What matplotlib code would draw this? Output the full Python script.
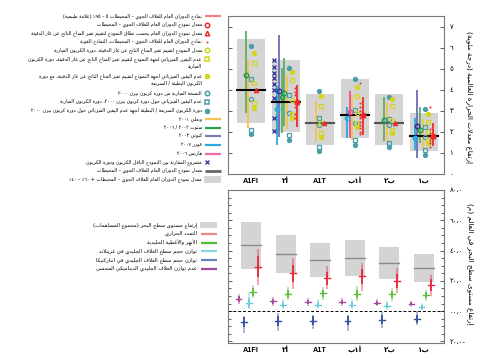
import numpy as np
import matplotlib
matplotlib.use("Agg")
import matplotlib.pyplot as plt
from matplotlib.patches import Rectangle
from matplotlib.ticker import MultipleLocator

plt.rcParams['font.family'] = ['DejaVu Sans']

# ---------------- data ----------------
scenarios = ["A1FI", "A2", "A1T", "A1B", "B2", "B1"]
scenario_labels = ["A1FI", "أ٢", "A1T", "أ١ب", "ب٢", "ب١"]

# top panel: warming (deg C)
aogcm_mean = [4.0, 3.4, 2.4, 2.8, 2.4, 1.8]
aogcm_box_lo = [2.4, 2.0, 1.4, 1.7, 1.4, 1.1]
aogcm_box_hi = [6.4, 5.4, 3.8, 4.5, 3.8, 2.9]

magicc_mean = [4.3, 3.5, 2.4, 2.9, 2.55, 2.0]
magicc_pu_lo = [3.35, 2.85, 1.95, 2.4, 2.1, 1.6]
magicc_pu_hi = [5.25, 4.45, 3.22, 3.7, 3.24, 2.48]
magicc_cc_lo = [3.15, 2.67, 1.75, 2.24, 1.96, 1.45]
magicc_cc_hi = [5.72, 4.83, 3.7, 4.14, 3.56, 2.87]

bern_mean = [3.57, 2.9, 2.32, 2.43, 2.32, 1.75]
bern_pu_lo = [2.08, 1.83, 1.29, 1.6, 1.45, 1.14]
bern_pu_hi = [4.53, 3.73, 2.64, 3.06, 2.59, 2.22]
bern_cc_lo = [1.9, 1.61, 1.1, 1.37, 1.26, 0.9]
bern_cc_hi = [6.07, 5.04, 3.95, 4.5, 3.67, 3.1]

# observational constraints (low, high[, median])
wigley = {"A1FI": (2.2, 5.4), "A2": (2.15, 4.7), "A1T": (1.5, 3.45),
          "A1B": (1.6, 3.75), "B2": (1.5, 3.4), "B1": (1.2, 2.6)}
stott = {"A1FI": [(2.9, 6.8, 4.7)], "A2": [(1.95, 5.05, 3.65), (2.3, 5.5, 3.85)],
         "B2": [(1.55, 3.65, 2.55)], "B1": [(1.45, 3.2, 2.1)]}
knutti = {"A2": (1.75, 6.6, 3.93), "B1": (0.75, 4.0, 2.27)}
furrer = {"A2": (1.4, 4.2, 3.07), "A1B": (1.7, 3.2, 2.64), "B1": (1.13, 2.64, 1.73)}
harris = {"A1B": (1.7, 3.95, 2.92)}
c4mip_a2 = [5.39, 5.07, 4.8, 4.54, 4.28, 4.01, 3.59, 2.67, 2.04]
aogcm_range = {"A2": (2.3, 4.2), "A1B": (1.9, 3.6), "B1": (1.4, 2.35)}
aogcm_models = {"A2": [4.06, 3.9, 3.74, 3.43, 3.19, 2.87, 2.64],
                "A1B": [4.33, 3.35, 3.19, 3.0, 2.79, 2.64, 2.48, 2.32, 2.16, 2.0, 1.89],
                "B1": [3.17, 2.15, 1.95, 1.75, 1.6, 1.45, 1.3]}

# bottom panel: sea level rise (m)
sl_lo = [0.28, 0.25, 0.223, 0.234, 0.212, 0.19]
sl_hi = [0.588, 0.5, 0.448, 0.47, 0.426, 0.376]
sl_mid = [0.435, 0.376, 0.336, 0.354, 0.32, 0.284]
thermal_lo = [0.175, 0.146, 0.146, 0.131, 0.118, 0.10]
thermal_hi = [0.413, 0.35, 0.30, 0.315, 0.282, 0.24]
thermal_mid = [0.295, 0.249, 0.216, 0.23, 0.2, 0.172]
glacier_lo = [0.085, 0.076, 0.074, 0.07, 0.07, 0.07]
glacier_hi = [0.175, 0.161, 0.157, 0.168, 0.153, 0.14]
glacier_mid = [0.125, 0.113, 0.118, 0.113, 0.113, 0.107]
greenland_lo = [0.015, 0.015, 0.015, 0.015, 0.011, 0.011]
greenland_hi = [0.125, 0.081, 0.081, 0.081, 0.07, 0.054]
greenland_mid = [0.054, 0.043, 0.043, 0.043, 0.037, 0.026]
antarctic_lo = [-0.142, -0.131, -0.12, -0.131, -0.11, -0.094]
antarctic_hi = [-0.029, -0.013, -0.022, -0.022, -0.007, 0.0]
antarctic_mid = [-0.072, -0.062, -0.062, -0.062, -0.055, -0.05]
discharge_lo = [0.048, 0.037, 0.037, 0.037, 0.037, 0.03]
discharge_hi = [0.113, 0.096, 0.087, 0.085, 0.081, 0.066]
discharge_mid = [0.081, 0.066, 0.059, 0.059, 0.055, 0.048]

top_ticks = [0, 1, 2, 3, 4, 5, 6, 7]
top_tick_labels = ["٠", "١", "٢", "٣", "٤", "٥", "٦", "٧"]
bot_ticks = [-0.2, 0.0, 0.2, 0.4, 0.6, 0.8]
bot_tick_labels = ["-٠،٢٠", "٠،٠٠", "٠،٢٠", "٠،٤٠", "٠،٦٠", "٠،٨٠"]

top_ylabel = "إرتفاع معدلات الحرارة العالمية (درجة مئوية)"
bot_ylabel = "إرتفاع مستوى سطح البحر في العالم (م)"

top_legend_labels = [
    "نماذج الدوران العام للغلاف الجوي – المحيطات ٥ – ٩٥٪ (علامة طبيعية)",
    "معدل نموذج الدوران العام للغلاف الجوي – المحيطات",
    "معدل نموذج الدوران العام بحسب نطاق النموذج لتقييم تغير المناخ الناتج عن غاز الدفيئة",
    "نماذج الدوران العام للغلاف الجوي – المحيطات، النماذج القوية",
    "معدل النموذج لتقييم تغير المناخ الناتج عن غاز الدفيئة، دورة الكربون العيارية",
    "عدم اليقين الفيزيائي لجهة النموذج لتقييم تغير المناخ الناتج عن غاز الدفيئة، دورة الكربون\nالعيارية",
    "عدم اليقين الفيزيائي لجهة النموذج لتقييم تغير المناخ الناتج عن غاز الدفيئة، مع دورة\nالكربون البطيئة / السريعة",
    "النسخة العيارية من دورة كربون بيرن ٢٠٠٠",
    "عدم اليقين الفيزيائي حول دورة كربون بيرن ٢٠٠٠، دورة الكربون العيارية",
    "دورة الكربون السريعة / البطيئة لجهة عدم اليقين الفيزيائي حول دورة كربون بيرن ٢٠٠٠",
    "ويغلي ٢٠٠١",
    "ستوت ٢٠٠٢ / ٢٠٠٦",
    "كنوتي ٢٠٠٣",
    "فورر ٢٠٠٧",
    "هاريس ٢٠٠٦",
    "مشروع المقارنة بين النموذج الناقل الكربون ودورة الكربون",
    "معدل نموذج الدوران العام للغلاف الجوي – المحيطات",
    "معدل نموذج الدوران العام للغلاف الجوي – المحيطات + ٦٠٪ – ٤٠٪",
]
bot_legend_labels = [
    "إرتفاع مستوى سطح البحر (مجموع المساهمات)",
    "التمدد الحراري",
    "الأنهر والأغطية الجليدية",
    "توازن حجم سطح الغلاف الجليدي في غرينلاند",
    "توازن حجم سطح الغلاف الجليدي في انتاركتيكا",
    "عدم توازن الغلاف الجليدي الديناميكي المحسن",
]

# ---------------- arabic shaping (no reshaper lib available) ----------------
AR_LETTERS = "ءآأؤإئابةتثجحخدذرزسشصضطظعغفقكلمنهوىي"
AR_NFORMS = [1, 2, 2, 2, 2, 4, 2, 4, 2, 4, 4, 4, 4, 4, 2, 2, 2, 2,
             4, 4, 4, 4, 4, 4, 4, 4, 4, 4, 4, 4, 4, 4, 4, 2, 2, 4]
AR_BASE = {}
_code = 0xFE80
for _ch, _n in zip(AR_LETTERS, AR_NFORMS):
    AR_BASE[_ch] = (_code, _n)
    _code += _n
LAM_ALEF = {"آ": 0xFEF5, "أ": 0xFEF7, "إ": 0xFEF9, "ا": 0xFEFB}
MIRROR = {"(": ")", ")": "(", "[": "]", "]": "["}


def shape(s):
    out = []
    i = 0
    while i < len(s):
        c = s[i]
        if c not in AR_BASE:
            out.append(c)
            i += 1
            continue
        prev = s[i - 1] if i > 0 else ""
        prev_j = prev in AR_BASE and AR_BASE[prev][1] == 4
        if c == "ل" and i + 1 < len(s) and s[i + 1] in LAM_ALEF:
            out.append(chr(LAM_ALEF[s[i + 1]] + (1 if prev_j else 0)))
            i += 2
            continue
        nxt = s[i + 1] if i + 1 < len(s) else ""
        next_j = nxt in AR_BASE and AR_BASE[nxt][1] > 1
        base, n = AR_BASE[c]
        if n == 4 and prev_j and next_j:
            f = 3
        elif prev_j and n >= 2:
            f = 1
        elif n == 4 and next_j:
            f = 2
        else:
            f = 0
        out.append(chr(base + f))
        i += 1
    return "".join(out)


def ar(text):
    lines = []
    for s in text.split("\n"):
        s = shape(s)
        tokens, buf = [], ""
        for c in s:
            if c.isdigit() or ("A" <= c <= "Z") or ("a" <= c <= "z"):
                buf += c
            else:
                if buf:
                    tokens.append(buf)
                    buf = ""
                tokens.append(MIRROR.get(c, c))
        if buf:
            tokens.append(buf)
        lines.append("".join(reversed(tokens)))
    return "\n".join(lines)


# ---------------- figure ----------------
W, H = 484, 358
fig = plt.figure(figsize=(W / 100, H / 100), dpi=100)
ax = fig.add_axes([228 / W, 1 - 174 / H, 216 / W, 158 / H])
bx = fig.add_axes([228 / W, 1 - 343 / H, 216 / W, 153 / H])
lg = fig.add_axes([0, 0, 1, 1], zorder=-1)
lg.set_xlim(0, W)
lg.set_ylim(H, 0)
lg.axis('off')

box_grey = '#d4d4d4'
red = '#ee2a2a'
yel = '#d2d61c'
teal = '#4a9ea8'
col_wig = '#f6c24f'
col_stott = '#5fae5f'
col_stott_m = '#1f9a4a'
col_knutti = '#6c6cb8'
col_knutti_m = '#2d2d90'
col_furrer = '#29a8e0'
col_harris = '#ec4c9e'
col_c4 = '#2d3192'

step = 0.075
for i, s in enumerate(scenarios):
    ax.add_patch(Rectangle((i - 0.405, aogcm_box_lo[i]), 0.81,
                           aogcm_box_hi[i] - aogcm_box_lo[i], fc=box_grey, ec='none', zorder=1))
    cols = []
    if s == "A2":
        cols.append(("c4mip", c4mip_a2))
    if s in furrer:
        cols.append(("line", (furrer[s], col_furrer, col_furrer)))
    if s in knutti:
        cols.append(("line", (knutti[s], col_knutti, col_knutti_m)))
    for r in stott.get(s, []):
        cols.append(("line", (r, col_stott, col_stott_m)))
    if s in harris:
        cols.append(("line", (harris[s], col_harris, col_harris)))
    if s in wigley:
        cols.append(("line", (wigley[s], col_wig, col_wig)))
    cols.append(("bern", None))
    cols.append(("magicc", None))
    if s in aogcm_models:
        cols.append(("models", aogcm_models[s]))
    cols.append(("aogcm", aogcm_range.get(s)))
    n = len(cols)

    mcol = 'black' if s in ("A1FI", "A2", "A1B", "B1") else '#555555'
    ax.plot([i - 0.405, i + 0.405], [aogcm_mean[i]] * 2, color=mcol, lw=1.5, zorder=3.5)

    for k, (kind, val) in enumerate(cols):
        xk = i + (k - (n - 1) / 2) * step
        if kind == "c4mip":
            ax.plot([xk] * len(val), val, ls='none', marker='x', ms=2.6, mew=0.9,
                    color=col_c4, zorder=4)
        elif kind == "line":
            rng, lc, mc = val
            ax.plot([xk, xk], rng[:2], color=lc, lw=1.3, zorder=3, solid_capstyle='butt')
            if len(rng) > 2:
                ax.plot(xk, rng[2], marker='o', mfc='none', mec=mc, ms=3.2, mew=1.0, zorder=4)
        elif kind in ("bern", "magicc"):
            if kind == "bern":
                c, m, plo, phi, clo, chi = teal, bern_mean, bern_pu_lo, bern_pu_hi, bern_cc_lo, bern_cc_hi
            else:
                c, m, plo, phi, clo, chi = yel, magicc_mean, magicc_pu_lo, magicc_pu_hi, magicc_cc_lo, magicc_cc_hi
            ax.plot([xk, xk], [clo[i], chi[i]], ls='none', marker='o', ms=2.8, mfc=c, mec=c, zorder=4)
            ax.plot([xk, xk], [plo[i], phi[i]], ls='none', marker='s', ms=2.7, mfc='none', mec=c,
                    mew=0.9, zorder=4)
            ax.plot(xk, m[i], marker='o', ms=3.0, mfc='none', mec=c, mew=0.9, zorder=4)
        elif kind == "models":
            ax.plot([xk] * len(val), val, ls='none', marker='s', ms=1.3, mfc=red, mec='none', zorder=4)
        elif kind == "aogcm":
            if val is not None:
                ax.plot([xk, xk], val, color=red, lw=1.3, zorder=3.6)
                ax.plot(xk, aogcm_mean[i], marker='o', ms=3.2, mfc='none', mec=red, mew=1.0, zorder=4)
            ax.plot(xk, aogcm_mean[i], marker='^', ms=3.4, mfc=red, mec=red, mew=0.6, zorder=4)

ax.set_xlim(-0.665, 5.58)
ax.set_ylim(0, 7.5)

# bottom panel
comp_offsets = [-0.36, -0.21, -0.07, 0.07, 0.21]
comp_colors = ['#a24a9e', '#33509e', '#6ccbe0', '#5cbf3a', '#e8283c']
comps = [(discharge_lo, discharge_hi, discharge_mid),
         (antarctic_lo, antarctic_hi, antarctic_mid),
         (greenland_lo, greenland_hi, greenland_mid),
         (glacier_lo, glacier_hi, glacier_mid),
         (thermal_lo, thermal_hi, thermal_mid)]
bx.axhline(0, color='black', lw=0.7, ls=(0, (3, 2)), zorder=2)
for i, s in enumerate(scenarios):
    bx.add_patch(Rectangle((i - 0.29, sl_lo[i]), 0.58, sl_hi[i] - sl_lo[i],
                           fc=box_grey, ec='none', zorder=1))
    bx.plot([i - 0.29, i + 0.29], [sl_mid[i]] * 2, color='#8a8a8a', lw=1.0, zorder=1.5)
    for (lo, hi, mid), off, c in zip(comps, comp_offsets, comp_colors):
        xx = i + off
        bx.plot([xx, xx], [lo[i], hi[i]], color=c, lw=1.3, alpha=0.45, zorder=3,
                solid_capstyle='butt')
        q = (hi[i] - lo[i]) * 0.28
        bx.plot([xx, xx], [max(lo[i], mid[i] - q), min(hi[i], mid[i] + q)], color=c, lw=1.3,
                zorder=3.2, solid_capstyle='butt')
        bx.plot([xx - 0.085, xx + 0.085], [mid[i]] * 2, color=c, lw=1.0, zorder=3.3)
bx.set_xlim(-0.665, 5.58)
bx.set_ylim(-0.21, 0.8)

for a, ticks, labels in ((ax, top_ticks, top_tick_labels), (bx, bot_ticks, bot_tick_labels)):
    a.set_xticks(range(len(scenarios)))
    a.set_xticklabels([ar(t) for t in scenario_labels], fontsize=5.2, fontweight='bold',
                      family=['Liberation Sans', 'DejaVu Sans'])
    a.set_yticks(ticks)
    a.set_yticklabels([ar(t) for t in labels], fontsize=5)
    a.yaxis.set_ticks_position('both')
    a.tick_params(axis='y', which='both', direction='in', length=3, width=0.6,
                  labelleft=False, labelright=True, pad=4, colors='#444444', labelcolor='black')
    a.tick_params(axis='x', length=0, pad=3)
    for sp in a.spines.values():
        sp.set_color('#777777')
        sp.set_linewidth(0.8)
bx.yaxis.set_minor_locator(MultipleLocator(0.05))
bx.tick_params(axis='y', which='minor', length=2)

lg.text(469, 97, ar(top_ylabel), rotation=270, ha='center', va='center', fontsize=5.2)
lg.text(469, 264, ar(bot_ylabel), rotation=270, ha='center', va='center', fontsize=5.2)

# ---------------- legends (drawn in pixel coords) ----------------
top_handles = [
    ('line', '#f07f7f'), ('o', red, 'none'), ('^', red, 'none'), ('s', red, 'small'),
    ('o', yel, 'none'), ('s', yel, 'none'), ('o', yel, 'fill'),
    ('o', teal, 'none'), ('s', teal, 'none'), ('o', teal, 'fill'),
    ('line', col_wig), ('line', '#2ea04a'), ('line', '#7b7bb8'), ('line', col_furrer),
    ('line', '#ee6aa8'), ('x', col_c4, ''), ('line', '#666666'), ('patch', box_grey),
]
bot_handles = [('patch', box_grey), ('line', '#f08888'), ('line', '#55bb33'),
               ('line', '#88d4e4'), ('line', '#7080c0'), ('line', '#a04a9c')]


def draw_legend(labels, handles, y0, pitch, text_right, hx0, hx1, mx, fs):
    y = y0
    for lab, h in zip(labels, handles):
        nlines = lab.count("\n") + 1
        if h[0] == 'line':
            lg.plot([hx0, hx1], [y, y], color=h[1], lw=1.6 if h[1] != '#666666' else 2.0,
                    solid_capstyle='butt')
        elif h[0] == 'patch':
            lg.add_patch(Rectangle((hx0 - 1, y - 3.2), hx1 - hx0 + 1, 6.4, fc=h[1], ec='none'))
        elif h[0] == 'x':
            lg.plot(mx, y, marker='x', ms=2.6, mew=0.9, color=h[1])
        else:
            if h[2] == 'small':
                lg.plot(mx, y, marker='s', ms=1.3, mfc=h[1], mec='none')
            elif h[2] == 'fill':
                lg.plot(mx, y, marker=h[0], ms=3.0, mfc=h[1], mec=h[1])
            else:
                lg.plot(mx, y, marker=h[0], ms=3.2, mfc='none', mec=h[1], mew=1.1)
        lg.text(text_right, y - 3.2, ar(lab), ha='right', va='top', fontsize=fs,
                linespacing=1.35)
        y += pitch * nlines


draw_legend(top_legend_labels, top_handles, 16, 8.6, 202, 205, 221, 207, 3.45)
draw_legend(bot_legend_labels, bot_handles, 225, 8.8, 197, 201, 217, 207, 3.8)

fig.savefig("out.png", dpi=100)
